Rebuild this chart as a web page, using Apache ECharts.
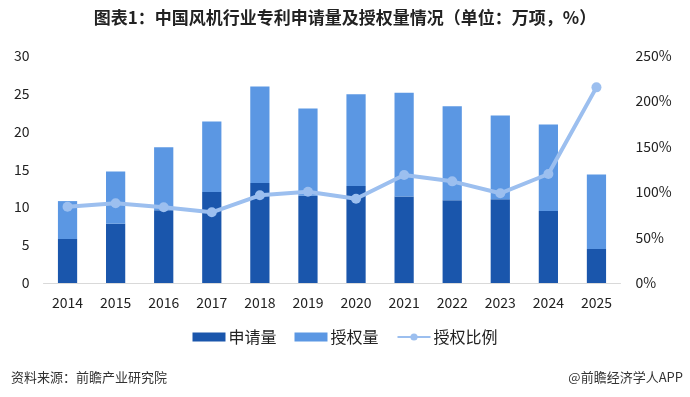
<!DOCTYPE html>
<html><head><meta charset="utf-8">
<script src="https://cdn.jsdelivr.net/npm/echarts@6/dist/echarts.min.js"></script>
<style>html,body{margin:0;padding:0;background:#fff}#c{width:690px;height:397px}</style>
</head><body><div id="c"></div>
<script>
var years = ['2014','2015','2016','2017','2018','2019','2020','2021','2022','2023','2024','2025'];
var applied = [5.8, 7.8, 9.6, 12.0, 13.2, 11.5, 12.8, 11.4, 10.9, 11.05, 9.5, 4.5];
var granted = [5.0, 6.9, 8.3, 9.3, 12.7, 11.5, 12.1, 13.7, 12.4, 11.05, 11.4, 9.8];
var ratio = [83.8, 87.6, 83.2, 77.7, 96.4, 100.3, 92.6, 118.7, 111.7, 98.6, 119.8, 215];
var leftTicks = [0, 30, 5];
var rightTicks = [0, 250, 50];

var font = '"Noto Sans CJK SC", "Noto Sans", sans-serif';
var chart = echarts.init(document.getElementById('c'), null, {renderer:'canvas'});
chart.setOption({
  animation:false,
  textStyle:{fontFamily:font},
  title:[
    {text:'图表1：中国风机行业专利申请量及授权量情况（单位：万项，%）', left:'center', top:4,
     textStyle:{fontSize:17, fontWeight:'bold', color:'#222', fontFamily:font}},
    {text:'资料来源：前瞻产业研究院', left:6, top:366, textStyle:{fontSize:13, fontWeight:'normal', color:'#333', fontFamily:font}},
    {text:'@前瞻经济学人APP', right:2, top:366, textStyle:{fontSize:13, fontWeight:'normal', color:'#333', fontFamily:font}}
  ],
  legend:{
    bottom:47, left:'center', itemGap:18, itemWidth:33, itemHeight:9,
    textStyle:{fontSize:16, color:'#222', fontFamily:font, padding:[0,0,0,-2]},
    data:[{name:'申请量', icon:'rect'},{name:'授权量', icon:'rect'},{name:'授权比例'}]
  },
  grid:{left:43.5, right:69.5, top:55.5, bottom:114},
  xAxis:{type:'category', data:years,
    axisLine:{lineStyle:{color:'#d9d9d9', width:1}}, axisTick:{show:false},
    axisLabel:{fontSize:14, color:'#222', margin:13, fontFamily:font}},
  yAxis:[
    {type:'value', min:leftTicks[0], max:leftTicks[1], interval:leftTicks[2], splitLine:{show:false},
     axisLine:{show:false}, axisTick:{show:false}, axisLabel:{fontSize:14, color:'#222', margin:14, fontFamily:font}},
    {type:'value', min:rightTicks[0], max:rightTicks[1], interval:rightTicks[2], splitLine:{show:false},
     axisLine:{show:false}, axisTick:{show:false},
     axisLabel:{fontSize:14, color:'#222', margin:15, formatter:'{value}%', fontFamily:font}}
  ],
  series:[
    {name:'申请量', type:'bar', stack:'a', data:applied, barWidth:'40%', itemStyle:{color:'#1A56AC'}},
    {name:'授权量', type:'bar', stack:'a', data:granted, barWidth:'40%', itemStyle:{color:'#5B97E3'}},
    {name:'授权比例', type:'line', yAxisIndex:1, data:ratio, symbol:'circle', symbolSize:10,
     lineStyle:{color:'#9CBFEF', width:4}, itemStyle:{color:'#9CBFEF'}}
  ]
});
</script></body></html>
